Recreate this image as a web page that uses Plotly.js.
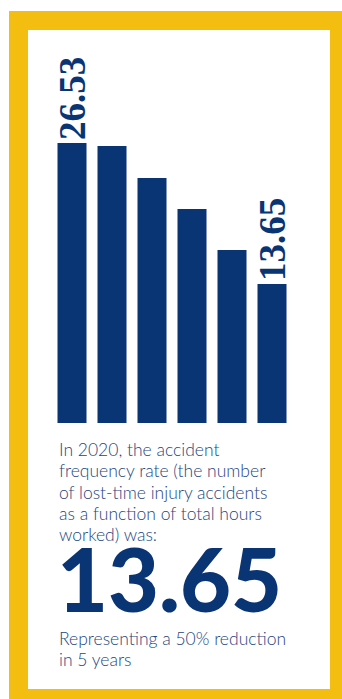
<!DOCTYPE html>
<html>
<head>
<meta charset="utf-8">
<script src="https://cdn.plot.ly/plotly-3.0.1.min.js"></script>
<style>
html,body{margin:0;padding:0;background:#FFFFFF;}
#chart{width:342px;height:699px;}
</style>
</head>
<body>
<div id="chart"></div>
<script>
// Data
var years = ['2015', '2016', '2017', '2018', '2019', '2020'];
var rates = [26.53, 26.25, 23.33, 20.5, 16.75, 13.65];
var barLabels = ['26.53', '', '', '', '', '13.65'];

var bodyLines = [
  'In 2020, the accident',
  'frequency rate (the number',
  'of lost-time injury accidents',
  'as a function of total hours',
  'worked) was:'
];
var headline = '13.65';
var footLines = ['Representing a 50% reduction', 'in 5 years'];

var W = 342, H = 699;
var L = 52, R = 50, T = 30, B = 276;
var pw = W - L - R, ph = H - T - B;
function px(x){ return (x - L) / pw; }
function py(y){ return (H - B - y) / ph; }

var navy = '#0A3574';
var textBlue = '#24467F';
var yellow = '#F4BE10';
var serif = '"Liberation Serif", "Times New Roman", serif';

var trace = {
  type: 'bar',
  x: years,
  y: rates,
  marker: {color: navy, line: {width: 0}},
  text: barLabels,
  textposition: 'outside',
  textangle: -90,
  cliponaxis: false,
  constraintext: 'none',
  textfont: {family: serif, size: 37, color: navy, weight: 700},
  outsidetextfont: {family: serif, size: 37, color: navy, weight: 700},
  hoverinfo: 'none'
};

var annotations = [];
bodyLines.forEach(function(t, i){
  annotations.push({
    xref: 'paper', yref: 'paper', x: px(57), y: py(458 + i * 21.3),
    xanchor: 'left', yanchor: 'bottom', showarrow: false, text: t,
    font: {family: 'Lato, sans-serif', size: 17.5, color: textBlue, weight: 300},
    yshift: -4
  });
});
annotations.push({
  xref: 'paper', yref: 'paper', x: px(55), y: py(615),
  xanchor: 'left', yanchor: 'bottom', showarrow: false, text: headline,
  font: {family: 'Lato, sans-serif', size: 88, color: navy, weight: 900},
  yshift: -18
});
footLines.forEach(function(t, i){
  annotations.push({
    xref: 'paper', yref: 'paper', x: px(57), y: py(647 + i * 21.3),
    xanchor: 'left', yanchor: 'bottom', showarrow: false, text: t,
    font: {family: 'Lato, sans-serif', size: 17.5, color: textBlue, weight: 300},
    yshift: -4
  });
});

var layout = {
  width: W, height: H,
  margin: {l: L, r: R, t: T, b: B, pad: 0},
  paper_bgcolor: '#FFFFFF',
  plot_bgcolor: 'rgba(0,0,0,0)',
  bargap: 0.275,
  showlegend: false,
  xaxis: {visible: false, showgrid: false, zeroline: false, fixedrange: true},
  yaxis: {visible: false, showgrid: false, zeroline: false, range: [0.95, 0.95 + ph / 10.947], fixedrange: true},
  shapes: [
    {
      type: 'rect', xref: 'paper', yref: 'paper', layer: 'below',
      x0: px(9), x1: px(345), y0: py(702), y1: py(11),
      fillcolor: yellow, line: {width: 0}
    },
    {
      type: 'rect', xref: 'paper', yref: 'paper', layer: 'below',
      x0: px(28), x1: px(330), y0: py(689), y1: py(30),
      fillcolor: '#FFFFFF', line: {width: 0}
    }
  ],
  annotations: annotations
};

Plotly.newPlot('chart', [trace], layout, {displayModeBar: false, staticPlot: true});
</script>
</body>
</html>
